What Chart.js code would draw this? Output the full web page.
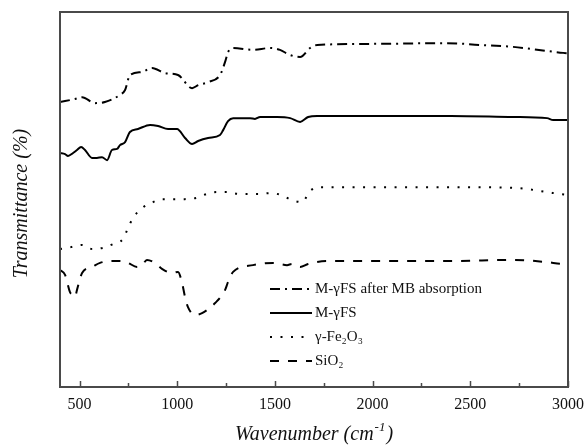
<!DOCTYPE html>
<html>
<head>
<meta charset="utf-8">
<script src="https://cdn.jsdelivr.net/npm/chart.js@4.4.1/dist/chart.umd.min.js"></script>
<style>
  html, body { margin: 0; padding: 0; background: #fff; }
  #wrap { width: 587px; height: 447px; position: relative; }
</style>
</head>
<body>
<div id="wrap"><canvas id="ftir"></canvas></div>
<script>
// FTIR spectra, transmittance in arbitrary (offset) units
const X_TICKS = [500, 1000, 1500, 2000, 2500, 3000];

const MB_WAVE = [400, 477, 513, 579, 630, 707, 733, 758, 820, 871, 938, 1004, 1076, 1107, 1158, 1219, 1245, 1260, 1286, 1388, 1475, 1526, 1578, 1629, 1680, 1716, 2000, 2381, 2550, 2719, 2893, 2975, 3000];
const MB_T    = [76.0, 76.8, 77.3, 75.7, 76.0, 77.9, 79.2, 83.2, 84.0, 85.1, 83.7, 83.2, 79.7, 80.5, 81.3, 83.2, 86.7, 89.3, 90.4, 89.9, 90.4, 89.9, 88.5, 88.0, 90.4, 91.2, 91.5, 91.7, 91.2, 90.7, 89.6, 89.1, 89.0];

const MGFS_WAVE = [400, 426, 441, 467, 487, 508, 528, 564, 589, 615, 641, 666, 692, 707, 733, 758, 799, 861, 902, 953, 999, 1040, 1076, 1107, 1158, 1219, 1235, 1260, 1286, 1373, 1398, 1424, 1511, 1578, 1629, 1670, 1716, 2400, 2719, 2893, 2924, 3000];
const MGFS_T    = [62.4, 62.1, 61.6, 62.4, 63.2, 64.0, 63.2, 61.1, 61.1, 61.3, 60.5, 63.2, 63.5, 64.5, 65.3, 68.0, 68.8, 69.9, 69.6, 68.8, 68.8, 66.4, 64.8, 65.6, 66.4, 67.2, 68.5, 70.9, 71.7, 71.7, 71.5, 72.0, 72.0, 71.7, 70.7, 72.0, 72.3, 72.3, 72.0, 71.7, 71.2, 71.2];

const FE_WAVE = [400, 456, 513, 564, 620, 671, 723, 748, 774, 820, 876, 927, 984, 1040, 1096, 1153, 1204, 1255, 1311, 1363, 1419, 1475, 1532, 1583, 1639, 1680, 1731, 2400, 2719, 2893, 2950, 3000];
const FE_T    = [36.8, 37.3, 37.9, 36.8, 37.1, 38.1, 39.5, 42.4, 45.1, 47.7, 49.3, 50.1, 50.1, 50.1, 50.4, 51.5, 52.0, 52.0, 51.5, 51.5, 51.5, 51.7, 51.2, 49.9, 49.3, 52.3, 53.3, 53.3, 53.1, 52.0, 51.5, 51.2];

const SIO2_WAVE = [400, 426, 451, 467, 477, 487, 513, 564, 605, 671, 707, 748, 794, 820, 845, 886, 922, 973, 1004, 1025, 1040, 1055, 1091, 1127, 1194, 1245, 1260, 1286, 1388, 1491, 1562, 1588, 1629, 1670, 1767, 2400, 2719, 2893, 2975, 3000];
const SIO2_T    = [31.2, 29.9, 25.3, 24.5, 24.0, 25.9, 30.4, 32.0, 33.1, 33.6, 33.6, 33.1, 32.0, 32.5, 33.9, 33.1, 31.5, 30.4, 30.7, 27.7, 24.0, 21.3, 19.2, 19.7, 22.4, 25.9, 28.0, 30.7, 32.5, 33.1, 32.5, 32.8, 32.0, 32.8, 33.6, 33.6, 33.9, 33.3, 32.8, 32.8];

const LABELS = ['M-γFS after MB absorption', 'M-γFS', 'γ-Fe₂O₃', 'SiO₂'];
const DASHES = [[10, 5, 2, 5], [], [2, 8.5], [9, 9]];

const SERIF = '"Liberation Serif", "Times New Roman", serif';

function toPoints(xs, ys) {
  return xs.map((x, i) => ({ x: x, y: ys[i] }));
}

const series = [
  toPoints(MB_WAVE, MB_T),
  toPoints(MGFS_WAVE, MGFS_T),
  toPoints(FE_WAVE, FE_T),
  toPoints(SIO2_WAVE, SIO2_T)
];

// frame, inward ticks, legend box inside plot, axis titles
const decorPlugin = {
  id: 'decor',
  afterDraw(chart) {
    const ctx = chart.ctx;
    const a = chart.chartArea;
    const xs = chart.scales.x;

    ctx.save();
    // frame
    ctx.strokeStyle = '#4a4a4a';
    ctx.lineWidth = 2;
    ctx.strokeRect(a.left, a.top, a.right - a.left, a.bottom - a.top);

    // inward ticks on bottom axis
    ctx.lineWidth = 1.5;
    for (let v = 500; v <= 3000; v += 250) {
      const px = Math.round(xs.getPixelForValue(v)) + 0.5;
      const len = v % 500 === 0 ? 6 : 4;
      ctx.beginPath();
      ctx.moveTo(px, a.bottom);
      ctx.lineTo(px, a.bottom - len);
      ctx.stroke();
    }

    // legend
    ctx.fillStyle = '#111';
    ctx.font = '15px ' + SERIF;
    ctx.textBaseline = 'middle';
    const rows = [289, 313, 337, 361];
    chart.data.datasets.forEach((ds, i) => {
      const y = rows[i];
      ctx.strokeStyle = '#000';
      ctx.lineWidth = 2;
      ctx.setLineDash(ds.borderDash || []);
      ctx.beginPath();
      ctx.moveTo(270, y);
      ctx.lineTo(312, y);
      ctx.stroke();
      ctx.setLineDash([]);
      ctx.fillText(ds.label, 315, y);
    });

    // x title with superscript
    ctx.fillStyle = '#111';
    ctx.textBaseline = 'alphabetic';
    const base = 'Wavenumber (cm';
    ctx.font = 'italic 20px ' + SERIF;
    const w1 = ctx.measureText(base).width;
    ctx.font = 'italic 13px ' + SERIF;
    const w2 = ctx.measureText('-1').width;
    ctx.font = 'italic 20px ' + SERIF;
    const w3 = ctx.measureText(')').width;
    const total = w1 + w2 + w3 + 2;
    let tx = (a.left + a.right) / 2 - total / 2;
    const ty = 440;
    ctx.fillText(base, tx, ty);
    tx += w1 + 1;
    ctx.font = 'italic 13px ' + SERIF;
    ctx.fillText('-1', tx, ty - 9);
    tx += w2 + 1;
    ctx.font = 'italic 20px ' + SERIF;
    ctx.fillText(')', tx, ty);

    // y title
    ctx.translate(22, (a.top + a.bottom) / 2 + 4);
    ctx.rotate(-Math.PI / 2);
    ctx.textAlign = 'center';
    ctx.textBaseline = 'middle';
    ctx.fillText('Transmittance (%)', 0, 0);
    ctx.restore();
  }
};

new Chart(document.getElementById('ftir'), {
  type: 'line',
  data: {
    datasets: series.map((pts, i) => ({
      label: LABELS[i],
      data: pts,
      borderColor: '#000',
      borderWidth: 2,
      borderDash: DASHES[i],
      pointRadius: 0,
      cubicInterpolationMode: 'monotone',
      fill: false
    }))
  },
  options: {
    responsive: true,
    maintainAspectRatio: false,
    animation: false,
    layout: { padding: { left: 60, right: 19, top: 12, bottom: 0 } },
    plugins: {
      legend: { display: false },
      tooltip: { enabled: false }
    },
    scales: {
      x: {
        type: 'linear',
        min: 400,
        max: 3000,
        afterFit(scale) {
          scale.height = 60;
          scale.paddingRight = 0;
          scale.paddingLeft = 0;
        },
        afterBuildTicks(scale) {
          scale.ticks = X_TICKS.map(v => ({ value: v }));
        },
        grid: { display: false, drawTicks: false },
        border: { display: false },
        ticks: {
          padding: 8,
          color: '#111',
          font: { family: SERIF, size: 16 },
          maxRotation: 0,
          autoSkip: false,
          callback: v => String(v)
        }
      },
      y: {
        display: false,
        min: 0,
        max: 100
      }
    }
  },
  plugins: [decorPlugin]
});
</script>
</body>
</html>
